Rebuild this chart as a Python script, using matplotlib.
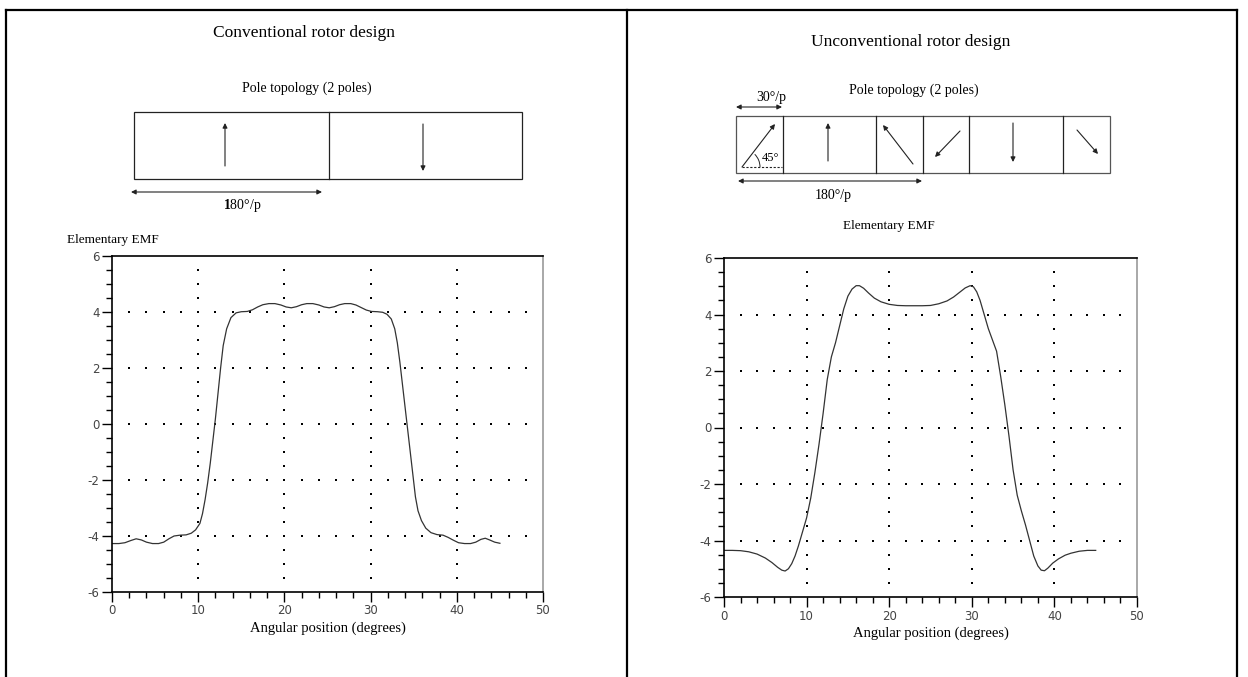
import numpy as np
import matplotlib
matplotlib.use('Agg')
from matplotlib import pyplot as plt
from matplotlib.patches import Rectangle, Arc
from matplotlib.ticker import MultipleLocator

plt.rcParams['axes.unicode_minus'] = False
plt.rcParams['mathtext.fontset'] = 'custom'
plt.rcParams['mathtext.rm'] = 'Liberation Serif'
plt.rcParams['mathtext.bf'] = 'Liberation Serif:bold'

# elementary EMF, conventional rotor
conv_angle = [0.0, 0.8, 1.5, 2.2, 2.8, 3.4, 4.0, 4.7, 5.4, 6.0, 6.6, 7.2, 7.9, 8.6,
              9.2, 9.7, 10.2, 10.5, 10.8, 11.1, 11.4, 11.7, 12.0, 12.3, 12.6, 12.9,
              13.3, 13.8, 14.4, 15.0, 15.7, 16.3, 16.9, 17.5, 18.2, 18.9, 19.6, 20.2,
              20.8, 21.4, 22.0, 22.6, 23.3, 24.0, 24.6, 25.2, 25.8, 26.4, 27.0, 27.7,
              28.3, 28.9, 29.5, 30.1, 30.8, 31.4, 31.9, 32.4, 32.8, 33.1, 33.4, 33.7,
              34.0, 34.3, 34.6, 34.9, 35.2, 35.5, 35.9, 36.4, 37.0, 37.7, 38.4, 39.0,
              39.6, 40.2, 40.9, 41.6, 42.2, 42.8, 43.3, 43.8, 44.4, 45.0]
conv_emf = [-4.27, -4.27, -4.24, -4.16, -4.10, -4.14, -4.22, -4.27, -4.27, -4.22, -4.10,
            -4.00, -3.97, -3.96, -3.90, -3.78, -3.55, -3.20, -2.70, -2.10, -1.40, -0.60,
            0.20, 1.10, 2.00, 2.80, 3.40, 3.80, 3.97, 4.01, 4.02, 4.08, 4.18, 4.26, 4.30,
            4.30, 4.25, 4.18, 4.15, 4.19, 4.26, 4.30, 4.30, 4.25, 4.18, 4.15, 4.19, 4.26,
            4.30, 4.30, 4.25, 4.16, 4.07, 4.02, 4.01, 3.99, 3.92, 3.75, 3.40, 2.90, 2.20,
            1.40, 0.60, -0.20, -1.00, -1.80, -2.60, -3.10, -3.45, -3.72, -3.88, -3.95,
            -3.97, -4.05, -4.15, -4.24, -4.27, -4.27, -4.22, -4.12, -4.08, -4.14, -4.22,
            -4.26]

# elementary EMF, unconventional rotor
unconv_angle = [0.0, 1.0, 2.0, 3.0, 4.0, 5.0, 5.8, 6.5, 7.0, 7.4, 7.8, 8.2, 8.6, 9.0,
                9.5, 10.0, 10.5, 11.0, 11.5, 12.0, 12.5, 13.0, 13.5, 14.0, 14.5, 15.0,
                15.5, 16.0, 16.4, 16.9, 17.5, 18.2, 19.0, 20.0, 21.0, 22.0, 23.0, 24.0,
                25.0, 26.0, 27.0, 27.8, 28.5, 29.2, 29.8, 30.2, 30.6, 31.0, 31.5, 32.0,
                32.5, 33.0, 33.5, 34.0, 34.5, 35.0, 35.5, 36.0, 36.5, 37.0, 37.5, 38.0,
                38.4, 38.8, 39.2, 39.8, 40.5, 41.3, 42.0, 43.0, 44.0, 45.0]
unconv_emf = [-4.35, -4.35, -4.36, -4.40, -4.48, -4.62, -4.78, -4.95, -5.05, -5.08, -5.00,
              -4.82, -4.55, -4.20, -3.70, -3.20, -2.50, -1.60, -0.60, 0.50, 1.70, 2.50,
              3.00, 3.60, 4.20, 4.65, 4.90, 5.02, 5.02, 4.93, 4.76, 4.58, 4.45, 4.36, 4.32,
              4.31, 4.31, 4.31, 4.32, 4.38, 4.48, 4.62, 4.78, 4.94, 5.02, 4.98, 4.80, 4.50,
              4.00, 3.50, 3.10, 2.70, 1.80, 0.80, -0.30, -1.50, -2.40, -2.95, -3.45, -4.00,
              -4.55, -4.90, -5.05, -5.07, -4.98, -4.80, -4.65, -4.52, -4.45, -4.38, -4.35,
              -4.35]

x_ticks = [0, 10, 20, 30, 40, 50]
y_ticks = [-6, -4, -2, 0, 2, 4, 6]

W, H = 1248, 677
fig = plt.figure(figsize=(W / 100, H / 100), dpi=100)
fig.patch.set_facecolor('white')

# background axes in pixel units for frame, titles and pole sketches
bg = fig.add_axes([0, 0, 1, 1])
bg.set_xlim(0, W)
bg.set_ylim(H, 0)
bg.axis('off')

serif = 'Liberation Serif'
ink = '#222222'

# table frame
bg.plot([6, 1237], [10, 10], color='black', lw=1.6)
for xv in [6, 627, 1237]:
    bg.plot([xv, xv], [10, H], color='black', lw=1.6)


def arrow(x0, y0, x1, y1, both=False, lw=0.8):
    style = '<|-|>' if both else '-|>'
    bg.annotate('', xy=(x1, y1), xytext=(x0, y0),
                arrowprops=dict(arrowstyle=style, lw=lw, color=ink,
                                mutation_scale=7, shrinkA=0, shrinkB=0))


# ---- left panel: conventional rotor ----
bg.text(304, 33, 'Conventional rotor design', fontsize=12.5, family=serif,
        ha='center', va='center')
bg.text(307, 88, 'Pole topology (2 poles)', fontsize=10, family=serif,
        ha='center', va='center')
bg.add_patch(Rectangle((134, 112), 388, 67, fill=False, lw=0.9, ec=ink))
bg.plot([329, 329], [112, 179], color=ink, lw=0.9)
arrow(225, 166, 225, 123)
arrow(423, 124, 423, 171)
arrow(131, 192, 322, 192, both=True)
bg.text(242, 206, r'$\mathbf{1}$80°/p', fontsize=10, family=serif, ha='center', va='center')
bg.text(67, 240, 'Elementary EMF', fontsize=9.5, family=serif, ha='left', va='center')

# ---- right panel: unconventional rotor ----
bg.text(911, 42, 'Unconventional rotor design', fontsize=12.5, family=serif,
        ha='center', va='center')
bg.text(914, 90, 'Pole topology (2 poles)', fontsize=10, family=serif,
        ha='center', va='center')
arrow(736, 107, 782, 107, both=True)
bg.text(771, 97, '30°/p', fontsize=10, family=serif, ha='center', va='center')
bg.add_patch(Rectangle((736, 116), 374, 57, fill=False, lw=0.9, ec='#555555'))
for xv in [783, 876, 923, 969, 1063]:
    bg.plot([xv, xv], [116, 173], color=ink, lw=0.9)
arrow(742, 167, 775, 124)
bg.plot([742, 782], [167, 167], color=ink, lw=0.8, ls=(0, (2, 1.5)))
bg.add_patch(Arc((742, 167), 36, 36, theta1=-45, theta2=0, lw=0.7, color=ink))
bg.text(771, 158, '45°', fontsize=9, family=serif, ha='center', va='center')
arrow(828, 161, 828, 123)
arrow(913, 164, 883, 125)
arrow(960, 131, 935, 157)
arrow(1013, 123, 1013, 162)
arrow(1077, 130, 1098, 154)
arrow(738, 181, 922, 181, both=True)
bg.text(833, 196, '180°/p', fontsize=10, family=serif, ha='center', va='center')
bg.text(889, 226, 'Elementary EMF', fontsize=9.5, family=serif, ha='center', va='center')


def emf_axes(rect, angle, emf):
    ax = fig.add_axes(rect)
    ax.plot(angle, emf, color='#333333', lw=0.9)
    # dotted grid drawn as dots, like the original plot
    gx = np.arange(2, 49, 2)
    for yv in y_ticks[1:-1]:
        ax.scatter(gx, np.full(gx.size, yv), s=2.5, marker='s', color='black', lw=0)
    gy = np.arange(-5.5, 5.51, 0.5)
    for xv in x_ticks[1:-1]:
        ax.scatter(np.full(gy.size, xv), gy, s=2.5, marker='s', color='black', lw=0)
    ax.set_xlim(0, 50)
    ax.set_ylim(-6, 6)
    ax.set_xticks(x_ticks)
    ax.set_yticks(y_ticks)
    ax.xaxis.set_minor_locator(MultipleLocator(2))
    ax.yaxis.set_minor_locator(MultipleLocator(0.5))
    ax.tick_params(which='major', direction='out', length=7, width=1.0,
                   labelsize=8.5, labelcolor='#444444', pad=2)
    ax.tick_params(which='minor', direction='out', length=4, width=1.0)
    for side in ['left', 'bottom', 'top']:
        ax.spines[side].set_color('black')
        ax.spines[side].set_linewidth(1.2)
    ax.spines['right'].set_color('#999999')
    ax.spines['right'].set_linewidth(1.2)
    ax.set_xlabel('Angular position (degrees)', family=serif, fontsize=10.5, labelpad=3)
    ax.set_facecolor('none')
    return ax


emf_axes([112 / W, 1 - 592 / H, 431 / W, 336 / H], conv_angle, conv_emf)
emf_axes([724 / W, 1 - 597 / H, 413 / W, 339 / H], unconv_angle, unconv_emf)

fig.savefig('out.png', dpi=100)
